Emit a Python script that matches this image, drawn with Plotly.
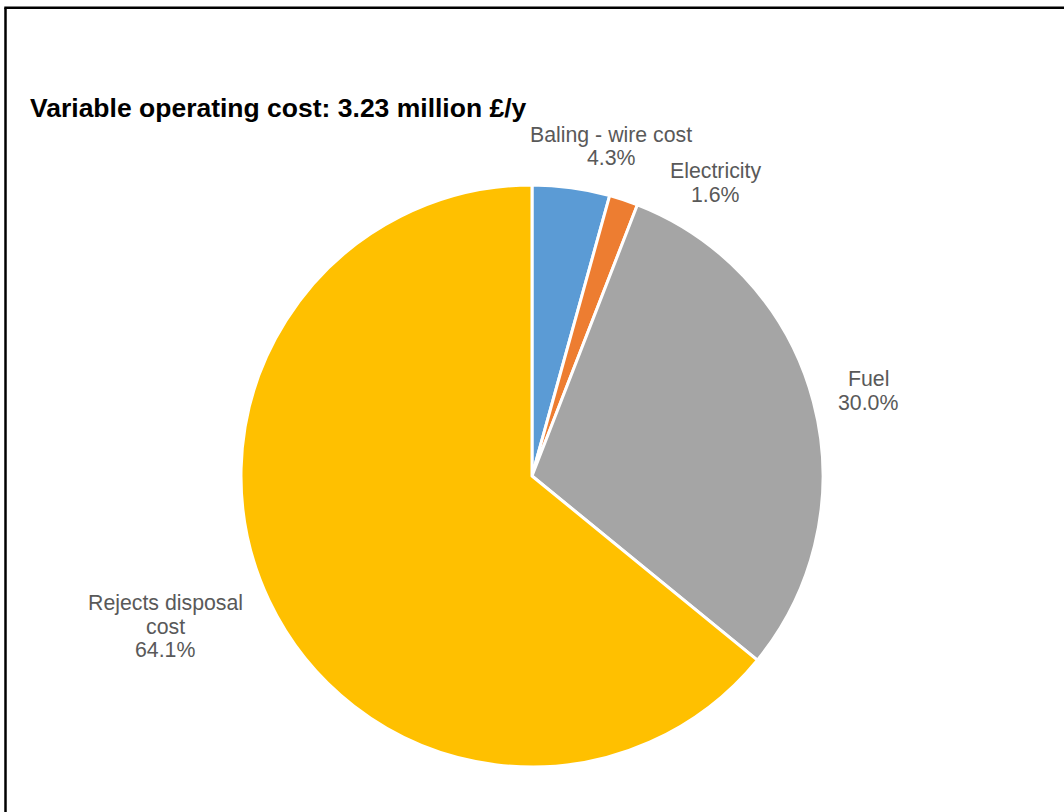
import plotly.graph_objects as go

# Cost breakdown (share of variable operating cost, %)
categories = ["Baling - wire cost", "Electricity", "Fuel", "Rejects disposal cost"]
shares = [4.3, 1.6, 30.0, 64.1]
colors = ["#5B9BD5", "#ED7D31", "#A5A5A5", "#FFC000"]
title_text = "Variable operating cost: 3.23 million £/y"

W, H = 1064, 812

# label lines per slice (name split over lines, then the percentage)
label_lines = [
    ["Baling - wire cost"],
    ["Electricity"],
    ["Fuel"],
    ["Rejects disposal", "cost"],
]
# label anchor (center x, first-line center y) in pixels
label_pos = [(611, 135), (715, 171), (868, 379), (165, 603)]
LINE_GAP = 23.5

def px(x):
    return x / W

def py(y):
    return 1 - y / H

fig = go.Figure(
    go.Pie(
        labels=categories,
        values=shares,
        marker=dict(colors=colors, line=dict(color="white", width=3)),
        sort=False,
        direction="clockwise",
        rotation=0,
        textinfo="none",
        hoverinfo="label+percent",
        domain=dict(x=[px(241), px(823)], y=[py(767), py(185)]),
    )
)

annotations = []
for lines, val, (cx, cy) in zip(label_lines, shares, label_pos):
    for i, t in enumerate(lines + [f"{val:.1f}%"]):
        annotations.append(
            dict(
                x=px(cx), y=py(cy + i * LINE_GAP), xref="paper", yref="paper",
                text=t, showarrow=False, xanchor="center", yanchor="middle",
                font=dict(family="Liberation Sans, Arial, sans-serif", size=21.3, color="#595959"),
            )
        )

annotations.append(
    dict(
        x=px(28), y=py(108), xref="paper", yref="paper",
        text=f"<b>{title_text}</b>", showarrow=False, xanchor="left", yanchor="middle",
        font=dict(family="Liberation Sans, Arial, sans-serif", size=26.5, color="#000000"),
    )
)

# chart frame (left and top edges)
shapes = [
    dict(type="line", xref="paper", yref="paper", x0=px(5.5), y0=0, x1=px(5.5), y1=py(7.8),
         line=dict(color="black", width=2.5)),
    dict(type="line", xref="paper", yref="paper", x0=px(4.3), y0=py(7.8), x1=1, y1=py(7.8),
         line=dict(color="black", width=2.5)),
]

fig.update_layout(
    width=W, height=H,
    margin=dict(l=0, r=0, t=0, b=0),
    paper_bgcolor="white", plot_bgcolor="white",
    showlegend=False,
    annotations=annotations,
    shapes=shapes,
)

fig.write_html("out.html")
